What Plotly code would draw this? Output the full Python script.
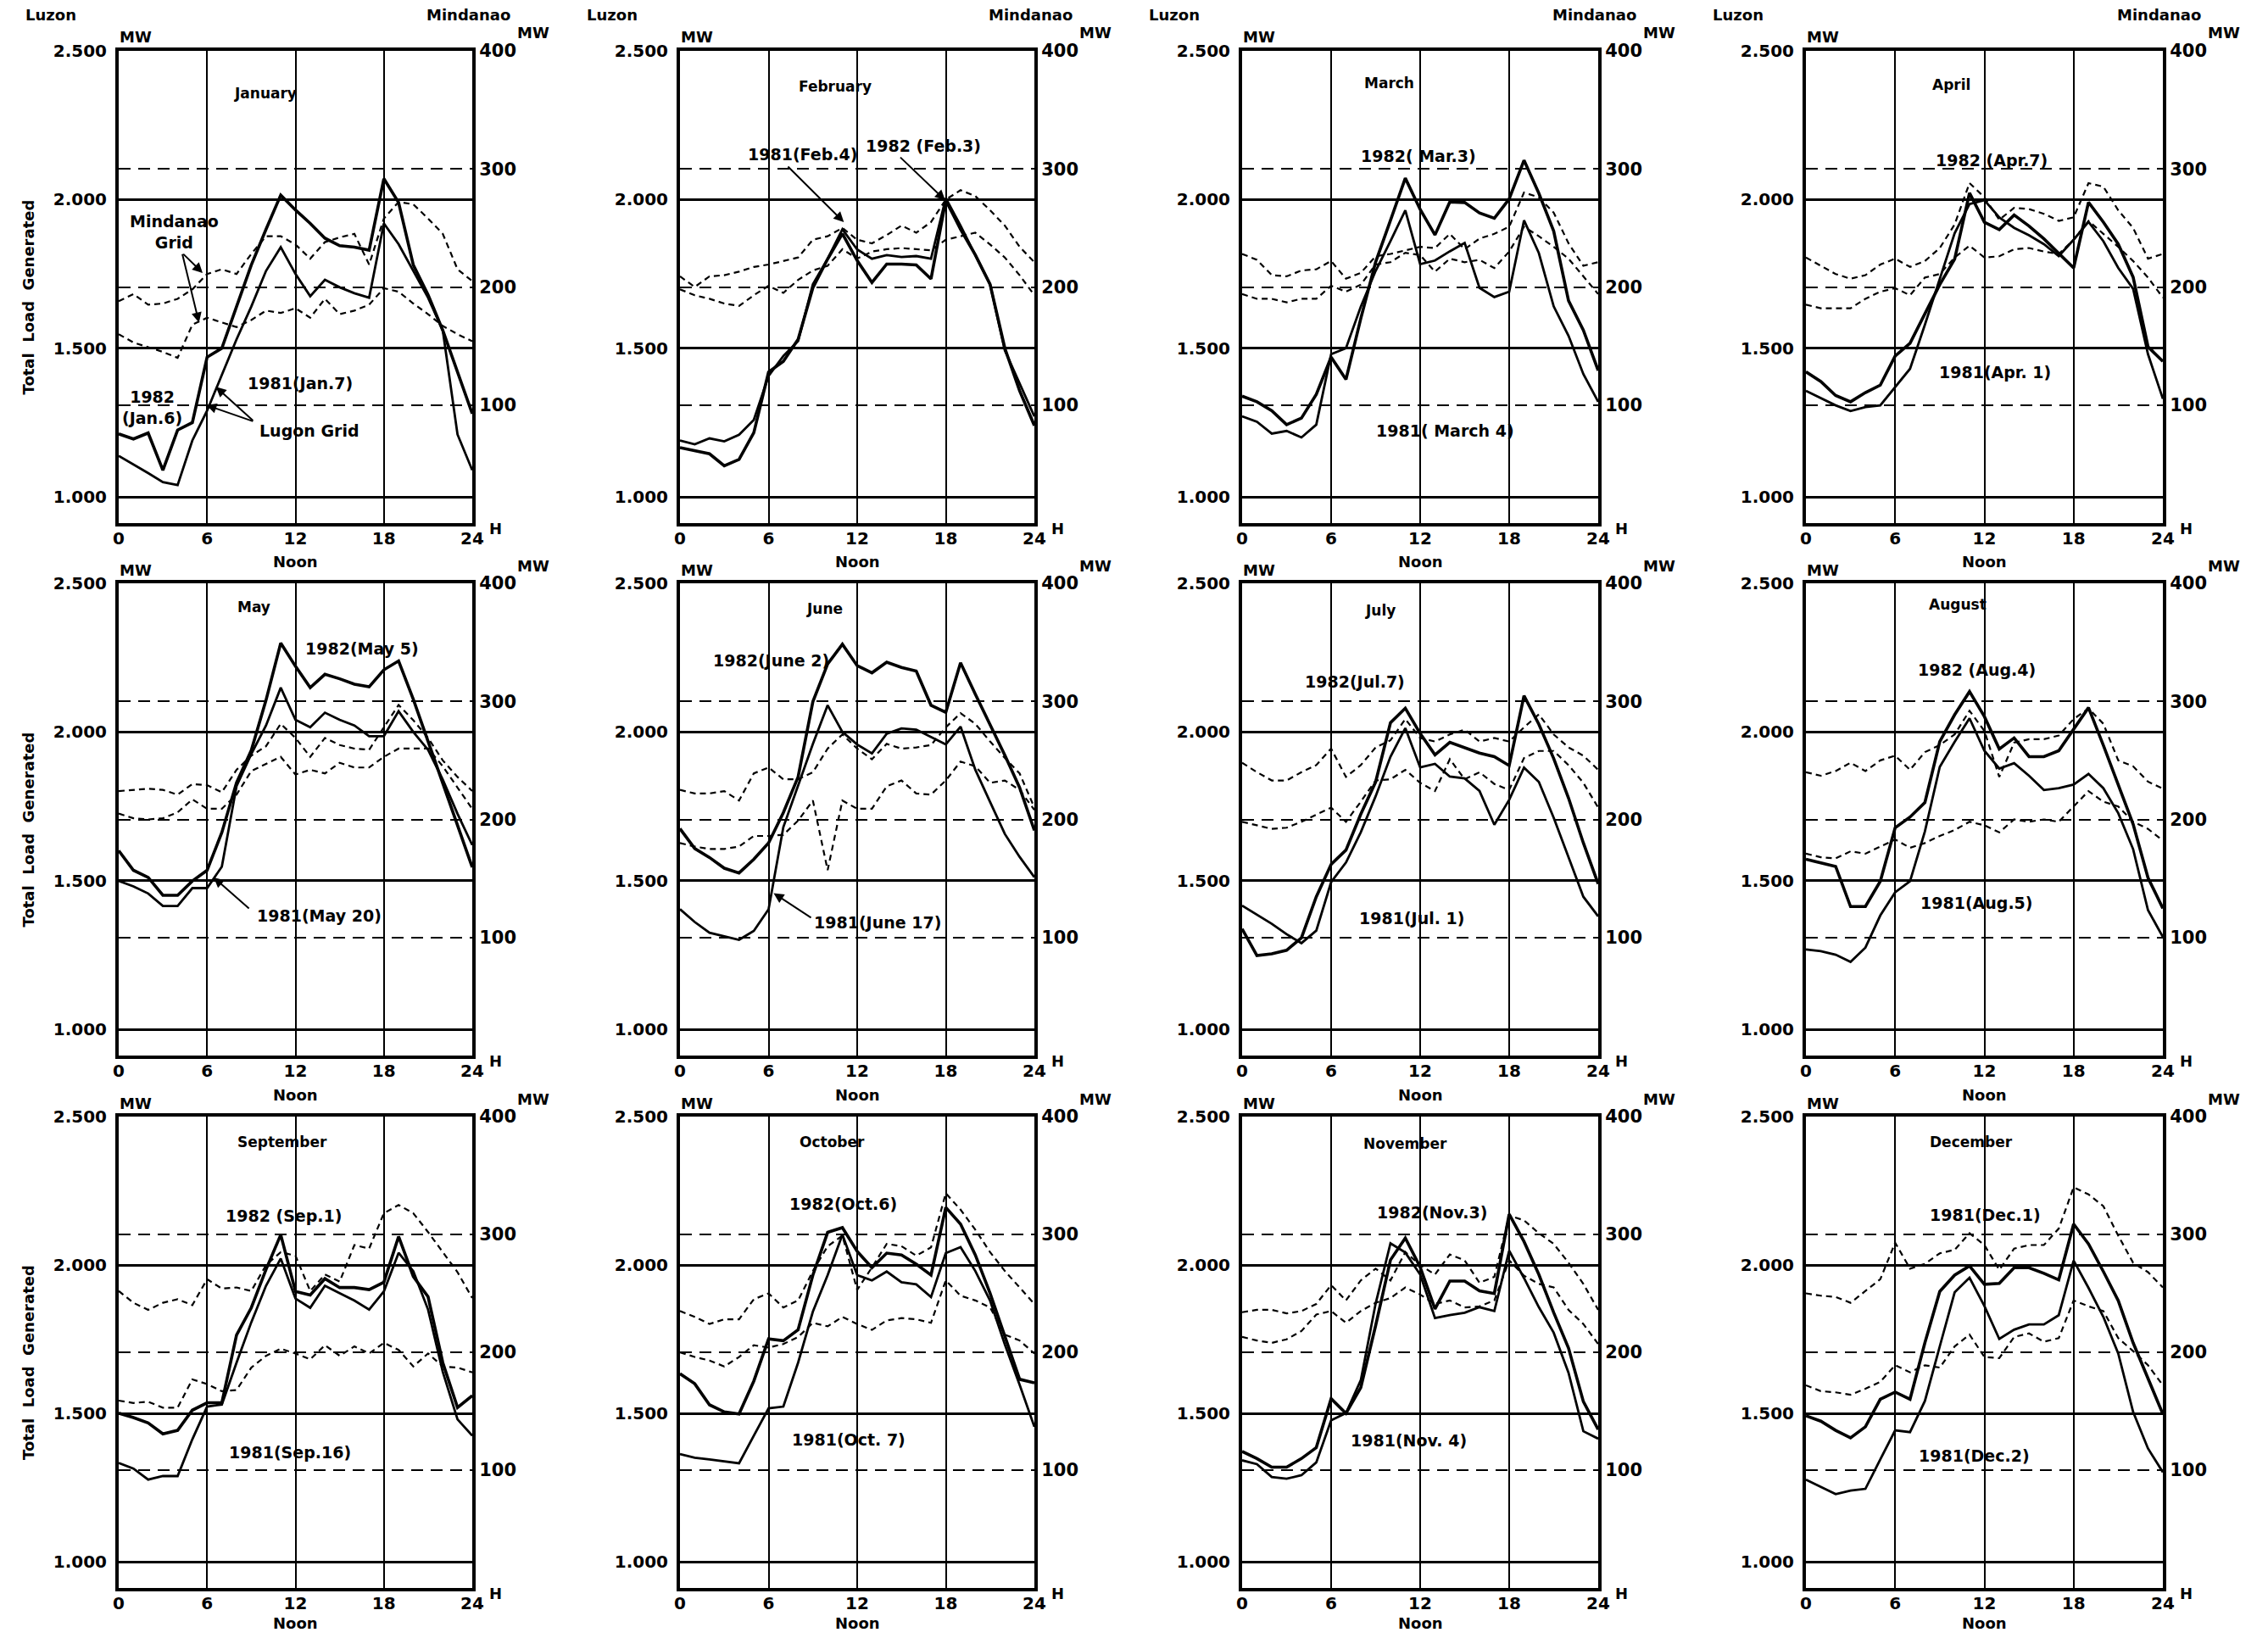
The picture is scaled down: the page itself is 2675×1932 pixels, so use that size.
import plotly.graph_objects as go

# ---------------- data ----------------
hours = list(range(25))
months = ["January", "February", "March", "April", "May", "June",
          "July", "August", "September", "October", "November", "December"]
x_ticks = [0, 6, 12, 18, 24]
x_tick_text = ["0", "6", "12", "18", "24"]
luzon_ticks = [1000, 1500, 2000, 2500]
luzon_tick_text = ["1.000", "1.500", "2.000", "2.500"]
mindanao_ticks = [100, 200, 300, 400]
mindanao_tick_text = ["100", "200", "300", "400"]

# Luzon grid, MW (left axis)
luzon_1982 = [
    [1212,1195,1215,1090,1225,1250,1470,1500,1640,1780,1900,2015,1965,1920,1870,1845,1840,1830,2070,1990,1780,1680,1560,1420,1280],
    [1166,1155,1145,1105,1126,1216,1420,1456,1530,1703,1800,1885,1795,1721,1783,1783,1780,1733,1998,1900,1814,1715,1500,1357,1240],
    [1339,1320,1290,1243,1265,1345,1470,1395,1600,1790,1930,2072,1967,1881,1992,1990,1955,1937,2002,2132,2021,1894,1660,1561,1425],
    [1421,1388,1341,1320,1351,1376,1474,1517,1616,1714,1800,2022,1924,1899,1948,1911,1868,1819,1770,1991,1924,1850,1739,1505,1456],
    [1601,1535,1511,1451,1451,1499,1535,1662,1830,1938,2107,2299,2221,2149,2194,2179,2161,2152,2209,2239,2110,1970,1830,1690,1545],
    [1675,1608,1578,1542,1526,1572,1627,1729,1849,2102,2229,2295,2223,2199,2235,2217,2205,2090,2066,2233,2127,2024,1922,1813,1669],
    [1338,1248,1254,1266,1308,1446,1555,1603,1724,1832,2031,2080,1995,1923,1965,1947,1929,1917,1887,2122,2026,1911,1778,1627,1489],
    [1572,1560,1548,1413,1413,1498,1678,1714,1763,1968,2058,2136,2052,1943,1980,1917,1917,1937,2010,2082,1955,1823,1690,1510,1407],
    [1501,1486,1468,1431,1443,1511,1536,1536,1764,1856,1985,2102,1911,1899,1954,1924,1924,1917,1942,2096,1961,1893,1671,1520,1560],
    [1634,1600,1529,1505,1498,1609,1751,1745,1782,1966,2110,2126,2046,1991,2040,2034,2003,1966,2194,2138,2034,1905,1760,1615,1603],
    [1372,1348,1319,1319,1348,1385,1550,1500,1587,1796,2017,2091,1993,1852,1946,1946,1913,1904,2171,2079,1968,1840,1720,1540,1446],
    [1492,1474,1443,1418,1455,1548,1572,1548,1738,1911,1966,1997,1935,1938,1991,1991,1972,1950,2138,2071,1978,1880,1738,1615,1498],
]
luzon_1981 = [
    [1138,1110,1080,1050,1040,1190,1290,1410,1530,1640,1760,1840,1750,1675,1730,1705,1685,1670,1920,1850,1760,1670,1560,1210,1090],
    [1190,1177,1197,1187,1209,1259,1407,1474,1524,1715,1801,1900,1832,1801,1813,1807,1810,1801,2005,1912,1813,1715,1493,1382,1271],
    [1271,1253,1213,1222,1200,1243,1480,1500,1640,1760,1860,1964,1783,1795,1826,1854,1703,1672,1690,1930,1820,1641,1542,1413,1320],
    [1357,1333,1308,1289,1302,1308,1370,1431,1579,1733,1887,1985,1998,1940,1905,1880,1850,1810,1865,1925,1860,1770,1700,1480,1330],
    [1499,1481,1457,1415,1415,1475,1475,1547,1818,1926,2022,2149,2041,2016,2065,2041,2022,1986,1986,2070,2000,1940,1840,1725,1620],
    [1404,1361,1325,1313,1301,1331,1404,1680,1820,1960,2090,2000,1958,1928,1994,2012,2008,1982,1958,2018,1873,1765,1657,1580,1512],
    [1416,1385,1355,1320,1290,1332,1495,1561,1663,1784,1917,2013,1881,1893,1850,1844,1802,1688,1772,1880,1832,1712,1579,1446,1380],
    [1269,1263,1251,1227,1275,1383,1461,1498,1666,1883,1967,2046,1937,1877,1895,1853,1805,1811,1823,1859,1811,1727,1606,1401,1311],
    [1333,1314,1277,1289,1289,1413,1523,1530,1671,1807,1930,2022,1887,1856,1930,1905,1880,1850,1911,2041,1979,1850,1640,1480,1425],
    [1363,1351,1345,1338,1332,1425,1517,1523,1671,1843,1966,2102,1966,1948,1978,1942,1935,1892,2040,2060,1980,1880,1732,1597,1455],
    [1342,1329,1286,1280,1292,1335,1477,1501,1612,1870,2073,2042,1968,1821,1831,1839,1858,1845,2048,1956,1858,1772,1637,1440,1415],
    [1277,1252,1228,1240,1246,1345,1443,1437,1542,1726,1908,1957,1862,1751,1782,1800,1800,1831,2015,1923,1825,1702,1505,1382,1302],
]
# Mindanao grid, MW (right axis)
mindanao_1982 = [
    [188,194,185,186,190,198,211,215,211,228,243,243,236,224,238,242,245,219,258,272,270,258,245,215,205],
    [209,200,209,210,213,217,219,222,225,240,243,250,240,237,244,252,246,255,274,282,277,265,252,234,221],
    [228,223,210,209,214,215,222,207,212,226,228,231,234,233,245,232,241,245,251,280,276,263,237,218,221],
    [225,218,211,207,210,219,224,217,222,233,253,288,276,257,267,266,262,256,259,288,285,265,250,224,228],
    [224,225,226,225,221,230,229,223,242,254,262,281,269,253,269,263,260,259,278,297,284,269,250,236,224],
    [225,222,222,224,216,239,244,234,234,240,260,272,260,251,264,260,261,263,278,290,281,266,252,239,210],
    [248,240,233,233,240,246,260,236,246,261,267,285,269,266,272,276,266,269,266,278,289,272,261,254,242],
    [240,237,241,248,241,250,254,242,257,263,272,292,275,236,265,268,268,271,285,294,281,250,245,232,226],
    [252,242,236,242,245,240,262,254,255,252,274,285,282,252,266,260,291,288,318,325,318,302,285,268,246],
    [235,230,224,228,228,245,250,238,244,269,290,299,253,272,292,290,282,289,335,321,304,285,269,255,241],
    [234,236,236,233,235,241,257,244,261,271,261,285,274,266,283,278,259,264,316,312,301,292,276,258,236],
    [250,248,247,242,252,262,293,271,275,284,287,301,291,270,288,291,291,305,340,334,324,299,276,268,255],
]
mindanao_1981 = [
    [160,153,149,145,140,168,174,170,166,172,180,178,182,174,190,177,180,185,199,196,186,177,167,160,154],
    [198,193,190,186,184,193,201,195,206,214,218,232,224,230,232,233,232,231,240,243,246,236,225,210,193],
    [194,190,190,187,190,190,201,196,202,219,221,229,227,213,224,221,223,216,230,251,243,234,224,209,194],
    [185,182,182,182,190,196,199,193,208,211,225,235,225,226,232,233,230,228,240,256,245,234,222,208,191],
    [205,201,200,201,206,217,209,209,221,241,247,253,238,242,239,248,244,244,253,260,260,260,245,227,209],
    [180,177,175,175,177,186,186,187,199,216,157,216,209,209,228,233,222,221,233,249,245,231,233,225,208],
    [198,195,192,193,198,204,210,198,215,233,234,242,231,224,251,234,240,230,225,252,258,258,246,231,210],
    [171,168,167,173,171,177,183,176,180,186,191,198,195,189,200,198,200,198,211,224,215,211,198,192,182],
    [159,157,158,153,153,177,173,167,168,187,197,203,199,194,206,197,205,199,208,202,188,199,188,187,183],
    [200,196,193,188,196,206,204,207,213,225,222,230,224,219,227,229,228,225,261,248,244,238,215,210,199],
    [213,210,208,211,218,232,235,225,235,242,246,255,249,241,244,238,239,244,278,265,258,255,236,224,207],
    [172,167,166,164,169,175,189,183,189,187,205,215,196,195,213,216,209,212,244,239,235,212,201,189,172],
]
labels_1982 = ["1982<br>(Jan.6)", "1982 (Feb.3)", "1982( Mar.3)", "1982 (Apr.7)", "1982(May 5)",
               "1982(June 2)", "1982(Jul.7)", "1982 (Aug.4)", "1982 (Sep.1)", "1982(Oct.6)",
               "1982(Nov.3)", "1981(Dec.1)"]
labels_1981 = ["1981(Jan.7)", "1981(Feb.4)", "1981( March 4)", "1981(Apr. 1)", "1981(May 20)",
               "1981(June 17)", "1981(Jul. 1)", "1981(Aug.5)", "1981(Sep.16)", "1981(Oct. 7)",
               "1981(Nov. 4)", "1981(Dec.2)"]

# ---------------- layout / positions ----------------
WIN_W, WIN_H = 2675, 1932
OFF = 8                      # default page body margin
W, H = WIN_W - 2 * OFF, WIN_H - 2 * OFF
COL_X = [(140, 557), (802, 1220), (1465, 1885), (2130, 2551)]
ROW_Y = [(60, 617), (688, 1245), (1317, 1873)]
NOON_GAP = [46, 46, 41]
LUZ_RANGE = [912, 2500]
MIN_RANGE = [0, 400]

month_pos = [(9.95, 2358), (10.5, 2380), (9.9, 2393), (9.8, 2386), (9.2, 2419), (9.8, 2414),
             (9.3, 2408), (10.2, 2429), (11.1, 2414), (10.3, 2413), (11.0, 2410), (11.1, 2414)]
pos_1982 = [(2.3, 1300), (16.5, 2180), (11.9, 2146), (12.5, 2133), (16.5, 2281), (6.2, 2241),
            (7.6, 2170), (11.5, 2209), (11.2, 2166), (11.05, 2206), (12.8, 2177), (12.05, 2169)]
pos_1981 = [(12.3, 1383), (8.3, 2152), (13.7, 1222), (12.7, 1419), (13.6, 1383), (13.4, 1361),
            (11.4, 1374), (11.5, 1425), (11.6, 1369), (11.4, 1412), (11.2, 1409), (11.3, 1357)]
# arrows: (head_x, head_y, tail_x, tail_y)
arrows = {
    0: [(5.7, 1753, 4.3, 1821), (5.45, 1586, 4.3, 1821), (5.95, 1309, 9.2, 1253), (6.6, 1370, 9.2, 1253)],
    1: [(11.1, 1924, 7.23, 2115), (17.96, 1998, 14.84, 2146)],
    4: [(6.45, 1511, 8.93, 1403)],
    5: [(6.34, 1458, 8.96, 1373)],
}

FONT = "DejaVu Sans"


def px(x):
    return (x - OFF) / W


def py(y):
    return 1 - (y - OFF) / H


def f(size, bold=True):
    d = dict(family=FONT, size=size, color="black")
    if bold:
        d["weight"] = "bold"
    return d


def paper_text(x, y, text, size=18, **kw):
    d = dict(x=px(x), y=py(y), xref="paper", yref="paper", text=text, showarrow=False,
             xanchor="center", yanchor="middle", font=f(size))
    d.update(kw)
    return d


fig = go.Figure()
layout = {}
ann = []

for i in range(12):
    r, c = divmod(i, 4)
    n = i + 1
    xa = "x" if n == 1 else f"x{n}"
    yl_n, yr_n = 2 * n - 1, 2 * n
    yl = "y" if yl_n == 1 else f"y{yl_n}"
    yr = f"y{yr_n}"
    x0, x1 = COL_X[c]
    y0, y1 = ROW_Y[r]

    layout["xaxis" if n == 1 else f"xaxis{n}"] = dict(
        domain=[px(x0), px(x1)], anchor=yl, range=[0, 24], tickvals=x_ticks, ticktext=x_tick_text,
        showgrid=True, gridcolor="black", gridwidth=2, zeroline=False, automargin=False,
        showline=True, linecolor="black", linewidth=4, mirror=True, ticks="",
        tickfont=f(20), ticklabelstandoff=-3, fixedrange=True)
    layout["yaxis" if yl_n == 1 else f"yaxis{yl_n}"] = dict(
        domain=[py(y1), py(y0)], anchor=xa, range=LUZ_RANGE, tickvals=luzon_ticks,
        ticktext=luzon_tick_text, showgrid=True, gridcolor="black", gridwidth=2.5, zeroline=False,
        showline=True, linecolor="black", linewidth=4, mirror=True, ticks="", automargin=False,
        tickfont=f(20), ticklabelstandoff=6, fixedrange=True)
    layout[f"yaxis{yr_n}"] = dict(
        overlaying=yl, side="right", anchor=xa, range=MIN_RANGE, tickvals=mindanao_ticks,
        ticktext=mindanao_tick_text, showgrid=True, gridcolor="black", gridwidth=2,
        griddash="14px,9px", zeroline=False, showline=True, linecolor="black", linewidth=4,
        ticks="", tickfont=f(21), automargin=False, fixedrange=True)

    fig.add_trace(go.Scatter(x=hours, y=mindanao_1982[i], xaxis=xa, yaxis=yr, mode="lines",
                             line=dict(color="black", width=2.2, dash="7px,5px"),
                             name=f"Mindanao 1982 {months[i]}", showlegend=False))
    fig.add_trace(go.Scatter(x=hours, y=mindanao_1981[i], xaxis=xa, yaxis=yr, mode="lines",
                             line=dict(color="black", width=2.2, dash="7px,5px"),
                             name=f"Mindanao 1981 {months[i]}", showlegend=False))
    fig.add_trace(go.Scatter(x=hours, y=luzon_1981[i], xaxis=xa, yaxis=yl, mode="lines",
                             line=dict(color="black", width=2.8),
                             name=f"Luzon 1981 {months[i]}", showlegend=False))
    fig.add_trace(go.Scatter(x=hours, y=luzon_1982[i], xaxis=xa, yaxis=yl, mode="lines",
                             line=dict(color="black", width=3.6),
                             name=f"Luzon 1982 {months[i]}", showlegend=False))

    # month title and date labels
    mx, my = month_pos[i]
    ann.append(dict(x=mx, y=my, xref=xa, yref=yl, text=months[i], showarrow=False, font=f(17),
                    xanchor="center", yanchor="middle"))
    ax_, ay_ = pos_1982[i]
    ann.append(dict(x=ax_, y=ay_, xref=xa, yref=yl, text=labels_1982[i], showarrow=False,
                    font=f(19), xanchor="center", yanchor="middle"))
    bx, by = pos_1981[i]
    ann.append(dict(x=bx, y=by, xref=xa, yref=yl, text=labels_1981[i], showarrow=False,
                    font=f(19), xanchor="center", yanchor="middle"))
    for (hx, hy, tx, ty) in arrows.get(i, []):
        ann.append(dict(x=hx, y=hy, ax=tx, ay=ty, xref=xa, yref=yl, axref=xa, ayref=yl,
                        text="", showarrow=True, arrowhead=2, arrowsize=1.2, arrowwidth=2,
                        arrowcolor="black"))

    # axis decorations
    ann.append(paper_text(x0 + 20, y0 - 16, "MW"))
    ann.append(paper_text(x1 + 72, y0 - 21, "MW"))
    ann.append(paper_text(x1 + 27, y1 + 6, "H"))
    ann.append(paper_text((x0 + x1) / 2, y1 + NOON_GAP[r], "Noon"))
    if r == 0:
        ann.append(paper_text(x0 - 80, 18, "Luzon"))
        ann.append(paper_text(x1 - 5, 18, "Mindanao"))
    if c == 0:
        ann.append(paper_text(33, (y0 + y1) / 2 + 12, "Total  Load  Generated", textangle=-90))

# January extra labels
ann.append(dict(x=3.75, y=1890, xref="x", yref="y", text="Mindanao<br>Grid", showarrow=False,
                font=f(19), xanchor="center", yanchor="middle"))
ann.append(dict(x=12.95, y=1222, xref="x", yref="y", text="Lugon Grid", showarrow=False,
                font=f(19), xanchor="center", yanchor="middle"))

layout.update(dict(width=W, height=H, autosize=False, margin=dict(l=0, r=0, t=0, b=0),
                   paper_bgcolor="white", plot_bgcolor="white", showlegend=False,
                   annotations=ann, font=f(17)))
fig.update_layout(**layout)
fig.write_html("out.html")
